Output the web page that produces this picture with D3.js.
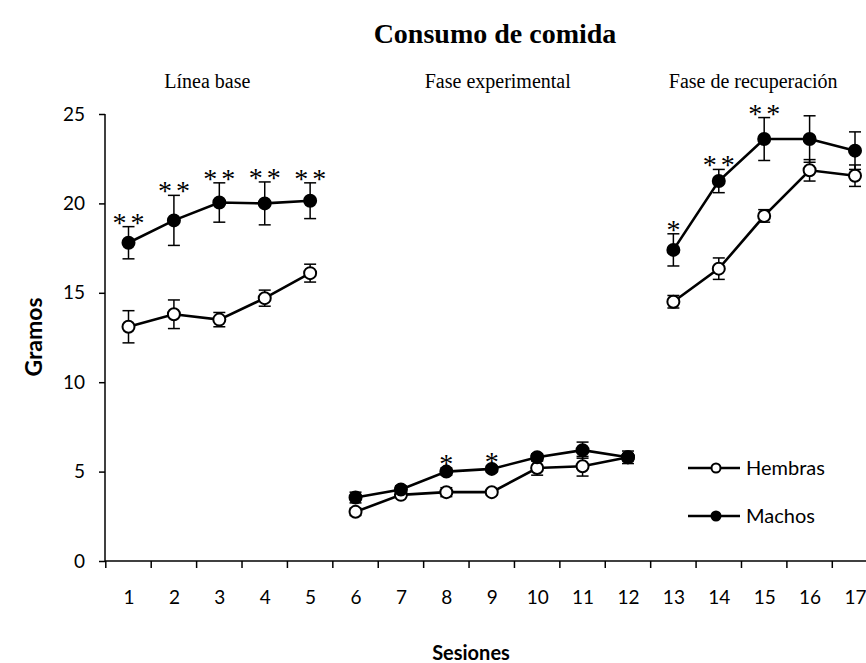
<!DOCTYPE html>
<html><head><meta charset="utf-8">
<script src="https://cdn.jsdelivr.net/npm/d3@7/dist/d3.min.js"></script>
<style>body{margin:0;background:#fff}svg{display:block}</style>
</head><body><svg id="c" width="866" height="663"></svg>
<script>
const sessions = [1,2,3,4,5,6,7,8,9,10,11,12,13,14,15,16,17];
const phaseOf  = [0,0,0,0,0,1,1,1,1,1,1,1,2,2,2,2,2];
const phaseNames = ["Línea base","Fase experimental","Fase de recuperación"];
const hembras   = [13.1,13.8,13.5,14.7,16.1, 2.75,3.7,3.85,3.85,5.2,5.3,5.8, 14.5,16.35,19.3,21.85,21.55];
const hembrasSE = [0.9,0.8,0.4,0.45,0.5, 0.2,0.15,0.25,0.15,0.4,0.55,0.2, 0.35,0.6,0.35,0.6,0.6];
const machos    = [17.8,19.05,20.05,20.0,20.15, 3.55,4.0,5.0,5.15,5.8,6.2,5.8, 17.4,21.25,23.6,23.6,22.95];
const machosSE  = [0.9,1.4,1.1,1.2,1.0, 0.3,0.2,0.2,0.15,0.2,0.45,0.35, 0.9,0.65,1.2,1.3,1.05];
const stars     = ["**","**","**","**","**","","","*","*","","","","*","**","**","",""];
const yTicks = [0,5,10,15,20,25];
const seriesNames = ["Hembras","Machos"];

const svg = d3.select("#c");
const x = d3.scaleLinear().domain([1,17]).range([128.5,855]);
const step = x(2)-x(1);
const y = d3.scaleLinear().domain([0,25]).range([561,114]);
const sans = "Lato, 'Open Sans', sans-serif";
const serif = "'Liberation Serif','DejaVu Serif',serif";
const labelShift = [-12, 6, -11]; // layout: horizontal nudge of phase labels (px)

// title
svg.append("text").attr("x",495).attr("y",43).attr("text-anchor","middle")
  .style("font-family",serif).style("font-weight","bold").style("font-size","28px").text("Consumo de comida");

// phase labels
phaseNames.forEach((p,i)=>{
  const ss = sessions.filter((s,j)=>phaseOf[j]===i);
  const cx = (x(ss[0])+x(ss[ss.length-1]))/2 + labelShift[i];
  svg.append("text").attr("x",cx).attr("y",88).attr("text-anchor","middle")
    .style("font-family",serif).style("font-size","20px").text(p);
});

// y axis
const yAxis = d3.axisLeft(y).tickValues(yTicks).tickSize(6).tickPadding(14);
const gy = svg.append("g").attr("transform","translate(105,0)").call(yAxis);
gy.select(".domain").attr("d",`M0,${y(25)}V${y(0)}`).attr("stroke","#000").attr("stroke-width",1.5);
gy.selectAll(".tick line").attr("stroke","#000").attr("stroke-width",1.5);
gy.selectAll(".tick text").style("font-family",sans).style("font-size","19px").attr("fill","#000");

// x axis
const xAxis = d3.axisBottom(x).tickValues(sessions).tickSize(0).tickPadding(30).tickFormat(d3.format("d"));
const gx = svg.append("g").attr("transform",`translate(0,${y(0)})`).call(xAxis);
gx.select(".domain").attr("d",`M105,0H866`).attr("stroke","#000").attr("stroke-width",1.5);
gx.selectAll(".tick text").style("font-family",sans).style("font-size","19px").attr("fill","#000");
gx.selectAll(".bnd").data(sessions).enter().append("line")
  .attr("x1",d=>x(d)-step/2).attr("x2",d=>x(d)-step/2).attr("y1",0).attr("y2",7)
  .attr("stroke","#000").attr("stroke-width",1.5);
gx.append("line").attr("x1",x(17)+step/2).attr("x2",x(17)+step/2).attr("y1",0).attr("y2",7).attr("stroke","#000");

// axis titles
svg.append("text").attr("transform","translate(42,337) rotate(-90)").attr("text-anchor","middle")
  .style("font-family",sans).style("font-weight","bold").style("font-size","23px").text("Gramos");
svg.append("text").attr("x",471).attr("y",660).attr("text-anchor","middle")
  .style("font-family",sans).style("font-weight","bold").style("font-size","20px").text("Sesiones");

const series = [
  {name:seriesNames[0], vals:hembras, se:hembrasSE, fill:"#fff"},
  {name:seriesNames[1], vals:machos, se:machosSE, fill:"#000"}
];
const line = d3.line().x(d=>x(d.s)).y(d=>y(d.v));

series.forEach(sr=>{
  const pts = sessions.map((s,i)=>({s, v:sr.vals[i], e:sr.se[i], p:phaseOf[i]}));
  const g = svg.append("g");
  pts.forEach(d=>{
    g.append("line").attr("x1",x(d.s)).attr("x2",x(d.s)).attr("y1",y(d.v+d.e)).attr("y2",y(d.v-d.e))
      .attr("stroke","#000").attr("stroke-width",1.5);
    [d.v+d.e,d.v-d.e].forEach(v=>g.append("line").attr("x1",x(d.s)-6).attr("x2",x(d.s)+6)
      .attr("y1",y(v)).attr("y2",y(v)).attr("stroke","#000").attr("stroke-width",1.5));
  });
  d3.range(3).forEach(p=>{
    g.append("path").attr("d",line(pts.filter(d=>d.p===p))).attr("fill","none")
      .attr("stroke","#000").attr("stroke-width",2.6);
  });
  g.selectAll("circle").data(pts).enter().append("circle")
    .attr("cx",d=>x(d.s)).attr("cy",d=>y(d.v)).attr("r",6)
    .attr("fill",sr.fill).attr("stroke","#000").attr("stroke-width",2);
});

// significance stars
sessions.forEach((s,i)=>{
  if(!stars[i]) return;
  svg.append("text").attr("x",x(s)+2).attr("y",y(machos[i]+machosSE[i])+5)
    .attr("text-anchor","middle").style("font-family",serif).style("font-size","28px")
    .style("letter-spacing","4px").text(stars[i]);
});

// legend
const lg = svg.append("g");
series.forEach((sr,i)=>{
  const ly = 468 + i*48;
  lg.append("line").attr("x1",688).attr("x2",740).attr("y1",ly).attr("y2",ly).attr("stroke","#000").attr("stroke-width",2.4);
  lg.append("circle").attr("cx",716).attr("cy",ly).attr("r",4.5).attr("fill",sr.fill).attr("stroke","#000").attr("stroke-width",2);
  lg.append("text").attr("x",746).attr("y",ly+7).style("font-family",sans).style("font-size","20px").text(sr.name);
});
</script></body></html>
